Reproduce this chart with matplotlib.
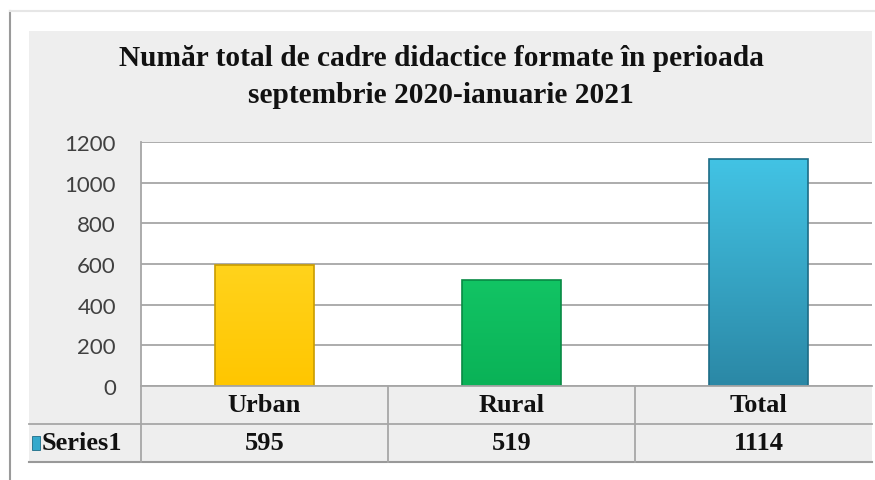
import numpy as np
import matplotlib.pyplot as plt
import matplotlib.transforms as mtransforms
from matplotlib.colors import LinearSegmentedColormap
from matplotlib.patches import Rectangle
from matplotlib.lines import Line2D

# data
categories = ["Urban", "Rural", "Total"]
values = [595, 519, 1114]
series_name = "Series1"
yticks = [0, 200, 400, 600, 800, 1000, 1200]
title = "Număr total de cadre didactice formate în perioada\nseptembrie 2020-ianuarie 2021"

# bar colours: (top, bottom, edge)
bar_colors = [("#ffd31c", "#ffc600", "#c99c00"),
              ("#12c464", "#0ab257", "#088a44"),
              ("#42c3e4", "#2b88a6", "#1d6c86")]

W, H = 875, 481
fig = plt.figure(figsize=(W / 100, H / 100), dpi=100)
fig.patch.set_facecolor("white")

serif = "Liberation Serif"
grid_col = "#a6a6a6"


def fx(px):
    return px / W


def fy(py):
    return 1 - py / H


# page edge + grey chart panel
fig.add_artist(Line2D([fx(10), fx(10)], [fy(12), 0], color="#9a9a9a", lw=1.5))
fig.add_artist(Line2D([fx(10), 1], [fy(12), fy(12)], color="#e6e6e6", lw=1.5))
fig.add_artist(Rectangle((fx(29), fy(463)), fx(872) - fx(29), fy(32) - fy(463),
                         facecolor="#eeeeee", edgecolor="none", zorder=0))

# plot area
left, right, top, bottom = 141, 872, 143, 387
ax = fig.add_axes([fx(left), fy(bottom), fx(right) - fx(left), fy(top) - fy(bottom)])
ax.set_facecolor("white")
ax.set_zorder(1)

x = np.arange(len(categories))
bars = ax.bar(x, values, width=0.4, color="none", zorder=3)
for b, (c_top, c_bot, c_edge) in zip(bars, bar_colors):
    cmap = LinearSegmentedColormap.from_list("g", [c_bot, c_top])
    grad = np.linspace(0, 1, 100).reshape(-1, 1)
    bx, bw, bh = b.get_x(), b.get_width(), b.get_height()
    im = ax.imshow(grad, extent=[bx, bx + bw, 0, bh], origin="lower",
                   aspect="auto", cmap=cmap, zorder=2)
    im.set_clip_path(b)
    b.set_edgecolor(c_edge)
    b.set_linewidth(1.2)

cat_w = (right - left) / 247.0
ax.set_xlim(-0.5, -0.5 + cat_w)
ax.set_ylim(0, 1200)
ax.set_yticks(yticks)
ax.set_xticks([])
ax.yaxis.grid(True, color=grid_col, lw=1.3)
ax.set_axisbelow(True)
for s in ["top", "right", "bottom"]:
    ax.spines[s].set_visible(False)
ax.spines["left"].set_color(grid_col)
ax.spines["left"].set_linewidth(1.3)
ax.tick_params(axis="y", length=0, pad=18, labelsize=16, labelcolor="#404040")
for lab in ax.get_yticklabels():
    lab.set_family("Lato")

# title
fig.text(fx(441), fy(77), title, ha="center", va="center", family=serif,
         fontweight="bold", fontsize=21.2, linespacing=1.45, color="#111111")

# data table under the axis
tr = mtransforms.blended_transform_factory(ax.transData, fig.transFigure)
fig.add_artist(Line2D([fx(left), fx(872)], [fy(387), fy(387)], color=grid_col, lw=1.3))
fig.add_artist(Line2D([fx(29), fx(872)], [fy(425), fy(425)], color=grid_col, lw=1.3))
fig.add_artist(Line2D([fx(29), fx(872)], [fy(463), fy(463)], color="#999999", lw=1.5))
fig.add_artist(Line2D([fx(left), fx(left)], [fy(387), fy(463)], color=grid_col, lw=1.3))
for i in range(len(categories) - 1):
    fig.add_artist(Line2D([i + 0.5, i + 0.5], [fy(387), fy(463)], color=grid_col,
                          lw=1.3, transform=tr))

for i, (c, v) in enumerate(zip(categories, values)):
    fig.text(i, fy(406), c, transform=tr, ha="center", va="center", family=serif,
             fontweight="bold", fontsize=19, color="#111111")
    fig.text(i, fy(444), str(v), transform=tr, ha="center", va="center", family=serif,
             fontweight="bold", fontsize=19, color="#111111")

fig.add_artist(Rectangle((fx(32), fy(451)), fx(8), fy(437) - fy(451),
                         facecolor="#35a9cc", edgecolor="#1d6c86", lw=0.6))
fig.text(fx(42), fy(444), series_name, ha="left", va="center", family=serif,
         fontweight="bold", fontsize=19, color="#111111")

fig.savefig("out.png", dpi=100)
